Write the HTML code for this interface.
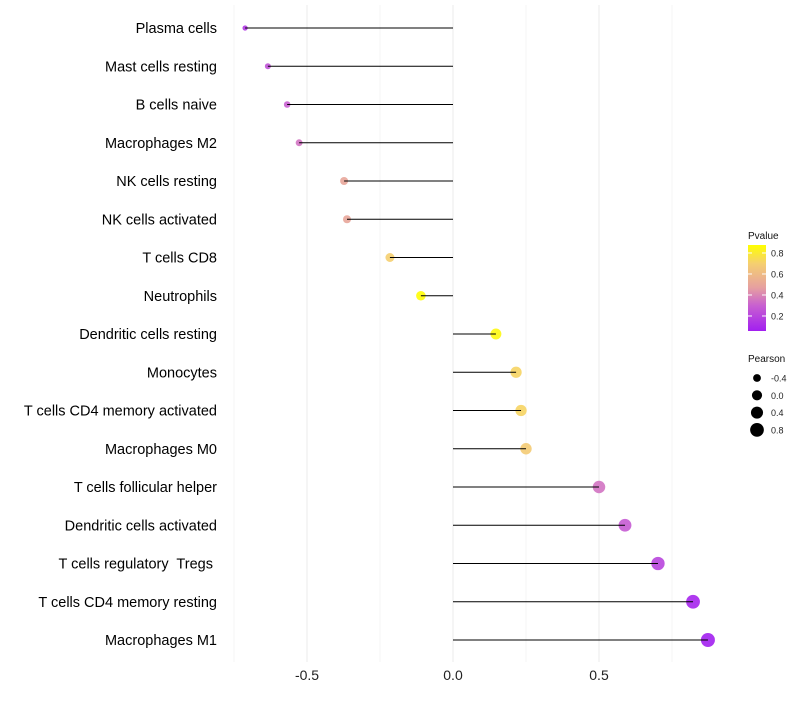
<!DOCTYPE html>
<html><head><meta charset="utf-8"><style>
body{margin:0;background:#fff;font-family:"Liberation Sans",sans-serif}
svg text{font-family:"Liberation Sans",sans-serif;white-space:pre}
</style></head><body>
<svg id="c" width="800" height="700"></svg>
<script>
const categories=["Plasma cells","Mast cells resting","B cells naive","Macrophages M2","NK cells resting","NK cells activated","T cells CD8","Neutrophils","Dendritic cells resting","Monocytes","T cells CD4 memory activated","Macrophages M0","T cells follicular helper","Dendritic cells activated","T cells regulatory  Tregs ","T cells CD4 memory resting","Macrophages M1"];
const pearson=[-0.712,-0.634,-0.568,-0.527,-0.373,-0.363,-0.216,-0.110,0.147,0.216,0.233,0.25,0.5,0.589,0.702,0.822,0.873];
const pvalue=[0.15,0.25,0.3,0.35,0.5,0.5,0.7,0.87,0.85,0.72,0.72,0.68,0.35,0.28,0.2,0.08,0.06];
const xTicks=[-0.5,0,0.5];
const xTickLabels=["-0.5","0.0","0.5"];
const colTicks=[0.2,0.4,0.6,0.8];
const sizeTicks=[-0.4,0,0.4,0.8];

const NS="http://www.w3.org/2000/svg";
const svg=document.getElementById('c');
function el(t,a,p){const e=document.createElementNS(NS,t);for(const k in a)e.setAttribute(k,a[k]);(p||svg).appendChild(e);return e;}
const x=v=>453+v*292;
const y=i=>28+i*38.25;
const r=v=>Math.sqrt(Math.max(3,25.8+26.5*v));
const stops=[[0.057,[162,31,240]],[0.3,[200,96,208]],[0.47,[230,160,160]],[0.7,[245,207,112]],[0.876,[255,255,0]]];
function col(p){if(p<=stops[0][0])return `rgb(${stops[0][1]})`;for(let i=1;i<stops.length;i++){if(p<=stops[i][0]){const a=stops[i-1],b=stops[i],t=(p-a[0])/(b[0]-a[0]);return `rgb(${a[1].map((c,j)=>Math.round(c+(b[1][j]-c)*t))})`;}}return `rgb(${stops[stops.length-1][1]})`;}

[-0.75,-0.25,0.25,0.75].forEach(v=>{const g=el('line',{x1:x(v),x2:x(v),y1:5,y2:662,stroke:'#f4f4f4','stroke-width':1});

});
xTicks.forEach((v,i)=>{const g=el('line',{x1:x(v),x2:x(v),y1:5,y2:662,stroke:'#ebebeb','stroke-width':1});


const t=el('text',{x:x(v),y:680,'text-anchor':'middle','font-size':14,fill:'#222'});t.textContent=xTickLabels[i];

});

categories.forEach((c,i)=>{
const t=el('text',{x:217,y:y(i)+5,'text-anchor':'end','font-size':14.5,fill:'#000'});t.textContent=c;


const p=el('circle',{cx:x(pearson[i]),cy:y(i),r:r(pearson[i]),fill:col(pvalue[i]),opacity:0.9});


const l=el('line',{x1:x(0),x2:x(pearson[i]),y1:y(i),y2:y(i),stroke:'#000','stroke-width':1});


});

const defs=el('defs',{});
const lg=el('linearGradient',{id:'g',x1:0,y1:1,x2:0,y2:0},defs);
stops.forEach(s=>el('stop',{offset:(s[0]-0.057)/(0.876-0.057),'stop-color':`rgb(${s[1]})`},lg));
let t=el('text',{x:748,y:239,'font-size':10,fill:'#111'});t.textContent='Pvalue';


const bar=el('rect',{x:748,y:245,width:18,height:86,fill:'url(#g)'});


const cy=p=>331-(p-0.057)/(0.876-0.057)*86;
colTicks.forEach(v=>{el('line',{x1:748,x2:752,y1:cy(v),y2:cy(v),stroke:'#fff'});el('line',{x1:762,x2:766,y1:cy(v),y2:cy(v),stroke:'#fff'});
const tt=el('text',{x:771,y:cy(v)+3.5,'font-size':9,fill:'#222'});tt.textContent=v.toFixed(1);

});

t=el('text',{x:748,y:362,'font-size':10,fill:'#111'});t.textContent='Pearson';


sizeTicks.forEach((v,i)=>{const yy=378+i*17.3;
const c=el('circle',{cx:757,cy:yy,r:r(v),fill:'#000'});


const tt=el('text',{x:771,y:yy+3.5,'font-size':9,fill:'#222'});tt.textContent=v.toFixed(1);

});
</script>
</body></html>
